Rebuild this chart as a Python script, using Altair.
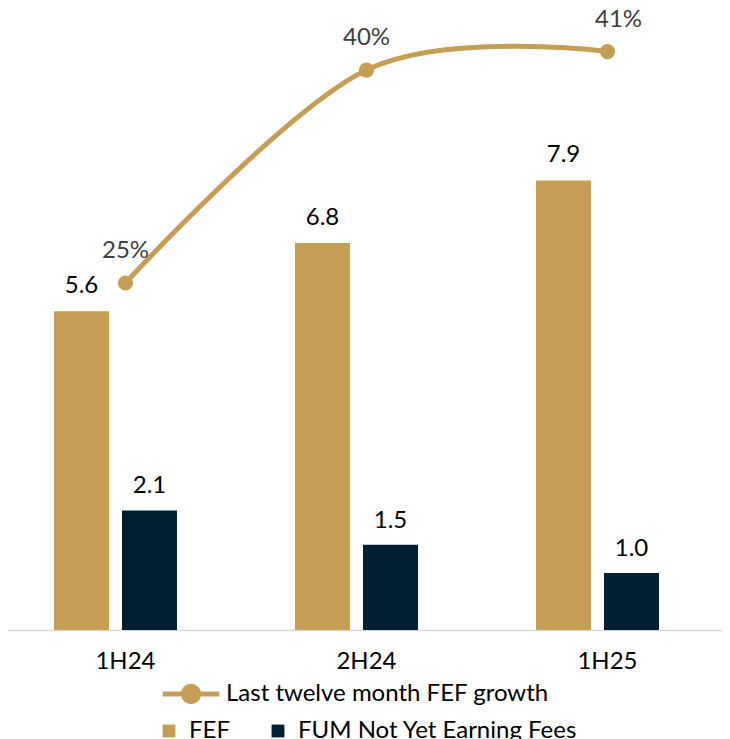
import altair as alt
import pandas as pd

periods = ["1H24", "2H24", "1H25"]
fef = [5.6, 6.8, 7.9]
fum = [2.1, 1.5, 1.0]
growth = [25, 40, 41.3]
growth_labels = ["25%", "40%", "41%"]

GOLD = "#C59D55"
NAVY = "#011F33"
FONT = "Lato"
FS = 24

df = pd.DataFrame({
    "period": periods,
    "fef": fef,
    "fum": fum,
    "growth": growth,
    "glabel": growth_labels,
    "s_fef": "FEF",
    "s_fum": "FUM Not Yet Earning Fees",
    "s_line": "Last twelve month FEF growth",
})

base = alt.Chart(df)
x = alt.X("period:N", sort=periods,
          scale=alt.Scale(range=[-3, 720], paddingInner=0, paddingOuter=0),
          axis=alt.Axis(title=None, ticks=False, labelAngle=0, labelFont=FONT, labelFontSize=FS,
                        labelColor="#000000", domainColor="#D9D9D9", domainWidth=1.5,
                        labelPadding=19, grid=False))

ybar = alt.Scale(domain=[0, 10.93], nice=False, zero=True)
color_bar = alt.Color("series:N", scale=alt.Scale(domain=["FEF", "FUM Not Yet Earning Fees"], range=[GOLD, NAVY]),
                      legend=alt.Legend(orient="none", legendX=149, legendY=711, direction="horizontal",
                                        title=None, symbolType="square", symbolSize=165, symbolStrokeWidth=0,
                                        labelFont=FONT, labelFontSize=FS, labelColor="#000000", labelLimit=0,
                                        columnPadding=35, labelOffset=8))

fef_bar = base.transform_calculate(series="datum.s_fef").mark_bar(width=55, xOffset=-44).encode(
    x=x, y=alt.Y("fef:Q", scale=ybar, axis=None), color=color_bar)
fum_bar = base.transform_calculate(series="datum.s_fum").mark_bar(width=55, xOffset=24).encode(
    x=x, y=alt.Y("fum:Q", scale=ybar, axis=None), color=color_bar)
fef_txt = base.mark_text(xOffset=-44, dy=-18, baseline="alphabetic", font=FONT, fontSize=FS, color="#000000").encode(
    x=x, y=alt.Y("fef:Q", scale=ybar, axis=None), text=alt.Text("fef:Q", format=".1f"))
fum_txt = base.mark_text(xOffset=24, dy=-17, baseline="alphabetic", font=FONT, fontSize=FS, color="#000000").encode(
    x=x, y=alt.Y("fum:Q", scale=ybar, axis=None), text=alt.Text("fum:Q", format=".1f"))

bars = alt.layer(fef_bar, fum_bar, fef_txt, fum_txt)

yline = alt.Scale(domain=[0.56, 44.37], nice=False, zero=False)
line_path = "M-1,0L1,0M-0.27,0A0.27,0.27,0,1,1,0.27,0A0.27,0.27,0,1,1,-0.27,0Z"
line = base.mark_line(strokeWidth=5, interpolate="cardinal").encode(
    x=x, y=alt.Y("growth:Q", scale=yline, axis=None),
    color=alt.Color("s_line:N", scale=alt.Scale(range=[GOLD]),
                    legend=alt.Legend(orient="none", legendX=152, legendY=655, title=None,
                                      symbolType=line_path, symbolSize=3200, symbolStrokeWidth=5,
                                      symbolFillColor=GOLD, symbolStrokeColor=GOLD,
                                      labelFont=FONT, labelFontSize=FS, labelColor="#000000",
                                      labelLimit=0, labelOffset=4)))
pts = base.mark_point(filled=True, size=230, opacity=1, color=GOLD).encode(
    x=x, y=alt.Y("growth:Q", scale=yline, axis=None))
pct_a = base.transform_filter("datum.period != '1H25'").mark_text(
    dy=-25, baseline="alphabetic", font=FONT, fontSize=FS, color="#404040").encode(
    x=x, y=alt.Y("growth:Q", scale=yline, axis=None), text="glabel:N")
pct_b = base.transform_filter("datum.period == '1H25'").mark_text(
    dy=-25, xOffset=11, baseline="alphabetic", font=FONT, fontSize=FS, color="#404040").encode(
    x=x, y=alt.Y("growth:Q", scale=yline, axis=None), text="glabel:N")

lines = alt.layer(line, pts, pct_a, pct_b)

chart = alt.layer(bars, lines).resolve_scale(y="independent", color="independent").properties(
    width=714, height=622,
    autosize=alt.AutoSizeParams(type="none"),
    padding={"left": 0, "top": 0, "right": 0, "bottom": 109},
).configure(background="#FFFFFF").configure_view(stroke=None)

chart.save("out.html", embed_options={"renderer": "svg", "actions": False})
